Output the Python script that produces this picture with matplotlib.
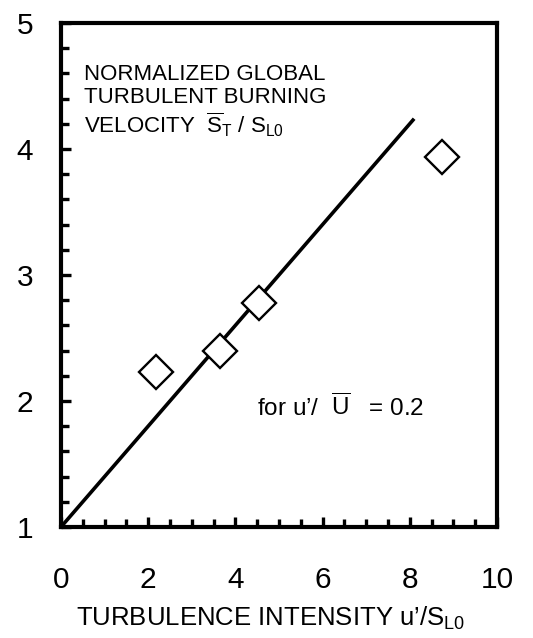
import numpy as np
import matplotlib
matplotlib.use('Agg')
import matplotlib.pyplot as plt
from matplotlib.ticker import MultipleLocator

plt.rcParams['font.family'] = ['Liberation Sans', 'DejaVu Sans']
plt.rcParams['mathtext.fontset'] = 'custom'
plt.rcParams['mathtext.rm'] = 'Liberation Sans'
plt.rcParams['mathtext.it'] = 'Liberation Sans'

# measured turbulent burning velocity vs. turbulence intensity
intensity = [2.18, 3.65, 4.55, 8.73]
burning_velocity = [2.23, 2.40, 2.78, 3.94]

# linear fit S_T/S_L0 = 1 + 0.4 u'/S_L0
fit_x = [0.0, 8.1]
fit_y = [1.0, 4.24]

x_ticks = [0, 2, 4, 6, 8, 10]
y_ticks = [1, 2, 3, 4, 5]

fig = plt.figure(figsize=(5.33, 6.38), dpi=100)
ax = fig.add_axes([0.1144, 0.174, 0.818, 0.790])

ax.plot(fit_x, fit_y, color='black', lw=2.6, solid_capstyle='butt')
ax.plot(intensity, burning_velocity, 'D', ms=17, mfc='white', mec='black', mew=1.7)

ax.set_xlim(0, 10)
ax.set_ylim(1, 5)
ax.set_xticks(x_ticks)
ax.set_yticks(y_ticks)
ax.xaxis.set_minor_locator(MultipleLocator(0.5))
ax.yaxis.set_minor_locator(MultipleLocator(0.2))

for side in ['left', 'right', 'top', 'bottom']:
    ax.spines[side].set_linewidth(3.0)

ax.tick_params(which='both', direction='in', top=False, right=False, width=2.4)
ax.tick_params(which='major', length=7)
ax.tick_params(which='minor', length=6)
ax.tick_params(axis='x', which='major', pad=28, labelsize=21.5)
ax.tick_params(axis='y', which='major', pad=20, labelsize=21.5)

ax.set_xlabel("TURBULENCE INTENSITY u\u2019/S$_{\\mathrm{L0}}$", fontsize=18.5, labelpad=7)
ax.xaxis.set_label_coords(0.48, -0.155)

ax.text(0.052, 0.918,
        "NORMALIZED GLOBAL\nTURBULENT BURNING\n"
        r"VELOCITY  $\overline{\mathrm{S}}_{\mathrm{T}}$ / S$_{\mathrm{L0}}$",
        transform=ax.transAxes, fontsize=16, va='top', ha='left',
        linespacing=1.12)

ax.text(0.45, 0.237, "for u\u2019/  $\\overline{\\mathrm{U}}$   = 0.2",
        transform=ax.transAxes, fontsize=17.5, va='center', ha='left')

fig.savefig('out.png', dpi=100)
